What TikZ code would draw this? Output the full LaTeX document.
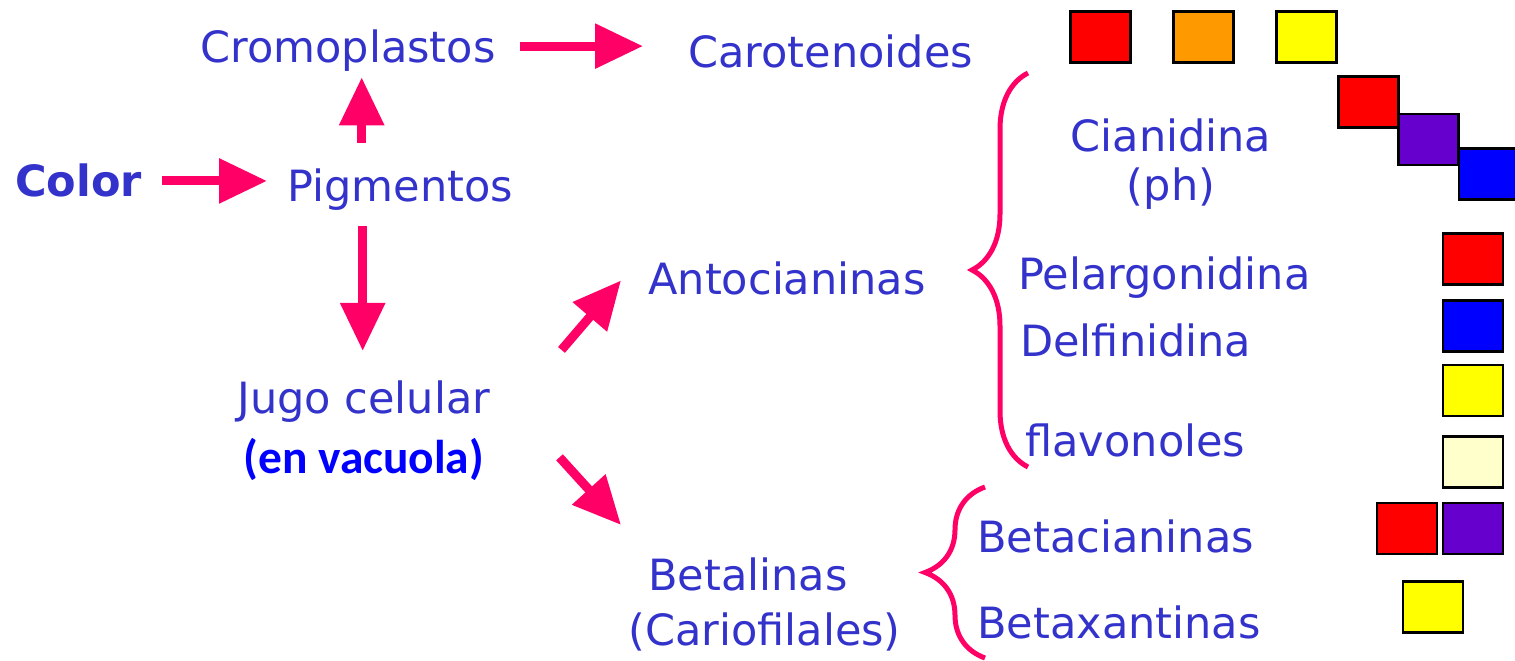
\documentclass[tikz,border=0pt]{standalone}
\usepackage{fontspec}
\setmainfont{DejaVu Sans}
\newfontfamily\carlito{Carlito}
\usetikzlibrary{arrows.meta,decorations.pathreplacing}
\definecolor{texto}{HTML}{3333CC}
\definecolor{flechas}{HTML}{FF0066}
\definecolor{rojo}{HTML}{FF0000}
\definecolor{naranja}{HTML}{FF9900}
\definecolor{amarillo}{HTML}{FFFF00}
\definecolor{morado}{HTML}{6600CC}
\definecolor{azul}{HTML}{0000FF}
\definecolor{crema}{HTML}{FFFFCC}
\newcommand{\tamano}{\fontsize{24.5}{28}\selectfont}
\begin{document}
\begin{tikzpicture}[
    x=0.2mm, y=-0.2mm,
    txt/.style={text=texto, font=\tamano, inner sep=0pt, anchor=base west},
    flecha/.style={draw=flechas, line width=1.8mm, -{Triangle[length=9.6mm,width=8.6mm]}},
    llave/.style={draw=flechas, line width=1mm, decorate, decoration={brace,amplitude=#1}},
    cuadro/.style={draw=black, line width=0.5mm, minimum width=12mm, minimum height=10.2mm, inner sep=0pt}
    ]
    \useasboundingbox (0,0) rectangle (1515,661);
    \clip (0,0) rectangle (1515,661);
    % textos
    \node[txt, font=\bfseries\tamano] (color) at (15,197) {Color};
    \node[txt] (pigm) at (287,202) {Pigmentos};
    \node[txt] (cromo) at (200,63) {Cromoplastos};
    \node[txt] (carot) at (688,68) {Carotenoides};
    \node[txt] (jugo) at (237,413) {Jugo celular};
    \node[txt, text=azul, font=\carlito\bfseries\fontsize{27}{30}\selectfont] (vacuola) at (243,473) {(en vacuola)};
    \node[txt] (antoc) at (648,295) {Antocianinas};
    \node[txt] (betal) at (648,590) {Betalinas};
    \node[txt] (cario) at (628,645) {(Cariofilales)};
    \node[txt, anchor=base, align=center] (cian) at (1171,201) {Cianidina\\(ph)};
    \node[txt] (pelar) at (1018,290) {Pelargonidina};
    \node[txt] (delf) at (1020,357) {Delfinidina};
    \node[txt] (flav) at (1025,456) {flavonoles};
    \node[txt] (betac) at (977,552) {Betacianinas};
    \node[txt] (betax) at (977,638) {Betaxantinas};
    % flechas
    \draw[flecha, shorten <=4mm, shorten >=4mm] (color.east) -- (color.east -| pigm.west);
    \draw[flecha, shorten <=5.2mm, shorten >=1mm] ([xshift=-7.7mm]pigm.north) -- ([xshift=-7.7mm]pigm.north |- cromo.south);
    \draw[flecha, shorten <=4.8mm, shorten >=9mm] ([yshift=1mm]cromo.east) -- ([yshift=1mm]cromo.east -| carot.west);
    \draw[flecha, shorten <=3mm, shorten >=5.8mm] ([xshift=-7.5mm]pigm.south) -- ([xshift=-7.5mm]pigm.south |- jugo.north);
    \draw[flecha] ([xshift=14.2mm,yshift=6mm]jugo.north east) -- ([xshift=-5.4mm,yshift=-0.3mm]antoc.west);
    \draw[flecha] ([xshift=13.8mm,yshift=-7mm]jugo.south east) -- ([xshift=-5.4mm,yshift=6.4mm]betal.north west);
    % llaves
    \draw[llave=11.2mm] (1028,467) -- (1028,73);
    \draw[llave=12mm] (985,658) -- (985,487);
    % colores
    \node[cuadro, fill=rojo] (car1) at (1100.5,37) {};
    \node[cuadro, fill=naranja] (car2) at (1203.5,37) {};
    \node[cuadro, fill=amarillo] (car3) at (1306.5,37) {};
    \node[cuadro, fill=rojo] (cian1) at (1368.5,102) {};
    \node[cuadro, fill=morado] (cian2) at (1428.5,139.5) {};
    \node[cuadro, fill=azul] (cian3) at (1489,174) {};
    \node[cuadro, fill=rojo] (pelar1) at (1473,259) {};
    \node[cuadro, fill=azul] (delf1) at (1473,326) {};
    \node[cuadro, fill=amarillo] (delf2) at (1473,390.5) {};
    \node[cuadro, fill=crema] (flav1) at (1473,462) {};
    \node[cuadro, fill=rojo] (betac1) at (1407,528.5) {};
    \node[cuadro, fill=morado] (betac2) at (1473,528.5) {};
    \node[cuadro, fill=amarillo] (betax1) at (1433,607) {};
\end{tikzpicture}
\end{document}
